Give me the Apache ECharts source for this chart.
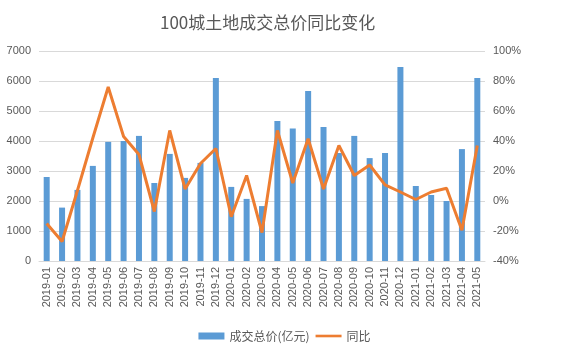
<!DOCTYPE html>
<html><head><meta charset="utf-8">
<script src="https://cdn.jsdelivr.net/npm/echarts@6/dist/echarts.min.js"></script>
<style>html,body{margin:0;padding:0;background:#fff}#c{width:569px;height:357px}</style>
</head><body><div id="c"></div>
<script>
const categories = ['2019-01','2019-02','2019-03','2019-04','2019-05','2019-06','2019-07','2019-08','2019-09','2019-10','2019-11','2019-12',
'2020-01','2020-02','2020-03','2020-04','2020-05','2020-06','2020-07','2020-08','2020-09','2020-10','2020-11','2020-12',
'2021-01','2021-02','2021-03','2021-04','2021-05'];
const totalPrice = [2800,1780,2370,3170,3970,4000,4170,2600,3570,2770,3270,6100,
2470,2070,1830,4670,4420,5670,4470,3600,4170,3430,3600,6470,
2500,2200,2000,3730,6100];
const yoy = [-15,-27,7,42,76,43,31,-7,47,8,25,35,
-10.5,17,-21,47,12,41.5,8,37,17,24,10.7,6,
1,6,8.5,-19.5,37];
const leftTicks = {min:0,max:7000,interval:1000};
const rightTicks = {min:-40,max:100,interval:20};

const txt = '#595959';
const chart = echarts.init(document.getElementById('c'));
chart.setOption({
  animation:false,
  title:{text:'100城土地成交总价同比变化',left:155,top:9,
    textStyle:{fontFamily:'Noto Sans CJK SC',fontSize:17,fontWeight:'normal',color:txt}},
  grid:{left:39,right:84,top:51,bottom:96},
  legend:{bottom:10,left:'center',itemGap:6,itemWidth:26,itemHeight:7,
    textStyle:{color:txt,fontSize:12,fontFamily:'Noto Sans CJK SC'},
    data:[{name:'成交总价(亿元)',icon:'rect'},{name:'同比',icon:'path://M0,0 L30,0 L30,3 L0,3 Z'}]},
  xAxis:{type:'category',data:categories,
    axisLine:{lineStyle:{color:'#d9d9d9'}},
    axisTick:{length:5,lineStyle:{color:'#d9d9d9'}},
    axisLabel:{rotate:90,color:txt,fontSize:11,fontFamily:'Liberation Sans',margin:6,interval:0}},
  yAxis:[
    {type:'value',min:leftTicks.min,max:leftTicks.max,interval:leftTicks.interval,
     axisLine:{show:false},axisTick:{show:false},
     splitLine:{lineStyle:{color:'#d9d9d9'}},
     axisLabel:{color:txt,fontSize:11,fontFamily:'Liberation Sans',margin:8,formatter:function(v){return String(v);}}},
    {type:'value',min:rightTicks.min,max:rightTicks.max,interval:rightTicks.interval,
     axisLine:{show:false},axisTick:{show:false},splitLine:{show:false},
     axisLabel:{color:txt,fontSize:11,fontFamily:'Liberation Sans',margin:8,formatter:'{value}%'}}
  ],
  series:[
    {name:'成交总价(亿元)',type:'bar',data:totalPrice,barWidth:6,
     itemStyle:{color:'#5B9BD5'}},
    {name:'同比',type:'line',yAxisIndex:1,data:yoy,symbol:'none',
     lineStyle:{color:'#ED7D31',width:3},itemStyle:{color:'#ED7D31'}}
  ]
});
</script></body></html>
